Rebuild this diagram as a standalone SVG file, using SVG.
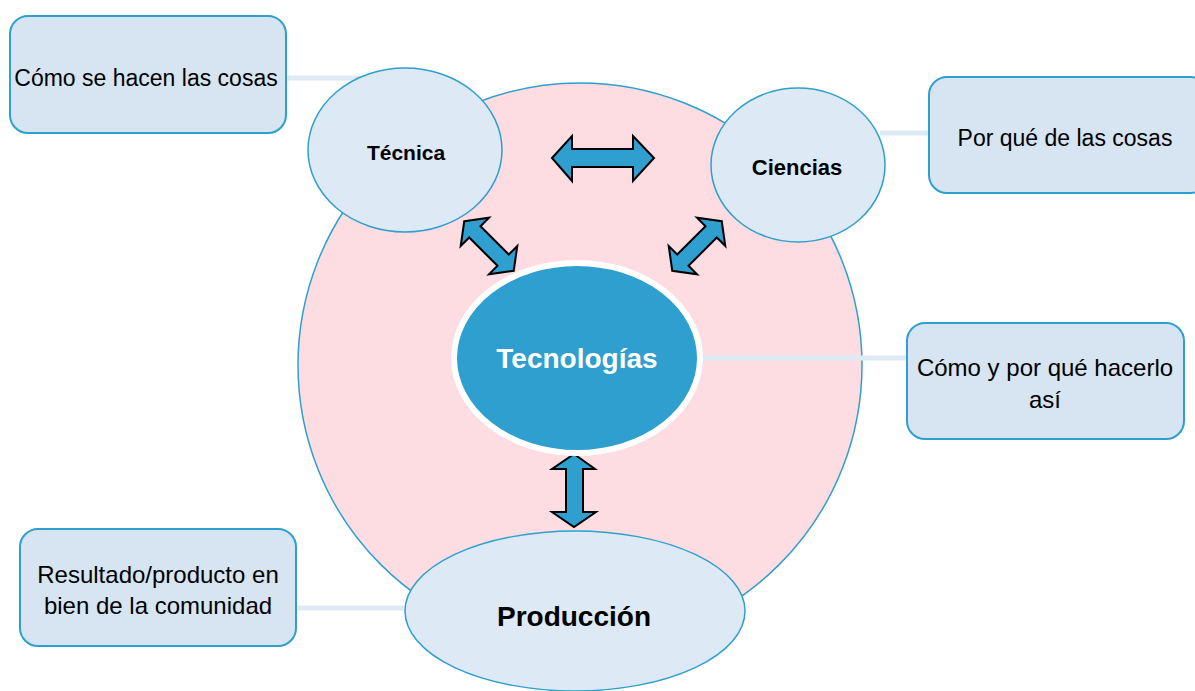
<svg xmlns="http://www.w3.org/2000/svg" width="1195" height="691" viewBox="0 0 1195 691">
<style>
.box{fill:#d7e4f2;stroke:#2e9fce;stroke-width:2}
.ell{fill:#dde9f4;stroke:#2e9fce;stroke-width:1.5}
.conn{stroke:#dde9f3;stroke-width:5;fill:none}
.arr{fill:#2e9fce;stroke:#000;stroke-width:2;stroke-linejoin:miter}
.t{font-family:"Liberation Sans",Arial,sans-serif;fill:#000}
.b{font-weight:bold}
</style>
<rect width="1195" height="691" fill="#fff"/>
<g id="outer"><circle cx="580" cy="365" r="282" fill="#fddde2" stroke="#2e9fce" stroke-width="1.5"/></g>
<g id="connectors">
<line class="conn" x1="286" y1="78" x2="360" y2="78"/>
<line class="conn" x1="880" y1="133" x2="929" y2="133"/>
<line class="conn" x1="700" y1="358" x2="907" y2="358"/>
<line class="conn" x1="296" y1="608" x2="410" y2="608"/>
<polygon class="arr" points="552,158 572,136 572,149 633,149 633,136 654,158 633,181 633,167 572,167 572,181"/>
<polygon class="arr" points="574,454 595,469 583,469 583,512 596,512 574,527 552,512 566,512 566,469 552,469"/>
<polygon class="arr" transform="translate(489,246) rotate(45)" points="-35,0 -20,-20 -20,-8 20,-8 20,-20 35,0 20,20 20,8 -20,8 -20,20"/>
<polygon class="arr" transform="translate(697,246) rotate(-45)" points="-35,0 -20,-20 -20,-8 20,-8 20,-20 35,0 20,20 20,8 -20,8 -20,20"/>
</g>
<g id="tecnica"><ellipse class="ell" cx="405" cy="150" rx="97" ry="82"/><text class="t b" x="406" y="160" font-size="21" text-anchor="middle">Técnica</text></g>
<g id="ciencias"><ellipse class="ell" cx="798" cy="165" rx="87" ry="77"/><text class="t b" x="797" y="175" font-size="22" text-anchor="middle">Ciencias</text></g>
<g id="tecnologias"><ellipse cx="577" cy="358" rx="123" ry="95" fill="#2e9fce" stroke="#fff" stroke-width="6"/><text x="577" y="368" font-family="Liberation Sans,Arial,sans-serif" font-weight="bold" font-size="28" fill="#fff" text-anchor="middle">Tecnologías</text></g>
<g id="produccion"><ellipse class="ell" cx="575" cy="611" rx="170" ry="80"/><text class="t b" x="574" y="626" font-size="28" text-anchor="middle">Producción</text></g>
<g id="box1"><rect class="box" x="10" y="16" width="276" height="117" rx="18"/><text class="t" x="146" y="86" font-size="23" text-anchor="middle">Cómo se hacen las cosas</text></g>
<g id="box2"><rect class="box" x="929" y="77" width="280" height="116" rx="18"/><text class="t" x="1065" y="146" font-size="23" text-anchor="middle">Por qué de las cosas</text></g>
<g id="box3"><rect class="box" x="907" y="323" width="277" height="116" rx="18"/><text class="t" x="1045" y="376" font-size="24" text-anchor="middle">Cómo y por qué hacerlo</text><text class="t" x="1045" y="408" font-size="24" text-anchor="middle">así</text></g>
<g id="box4"><rect class="box" x="20" y="529" width="276" height="117" rx="18"/><text class="t" x="158" y="583" font-size="24" text-anchor="middle">Resultado/producto en</text><text class="t" x="158" y="614" font-size="24" text-anchor="middle">bien de la comunidad</text></g>
</svg>
